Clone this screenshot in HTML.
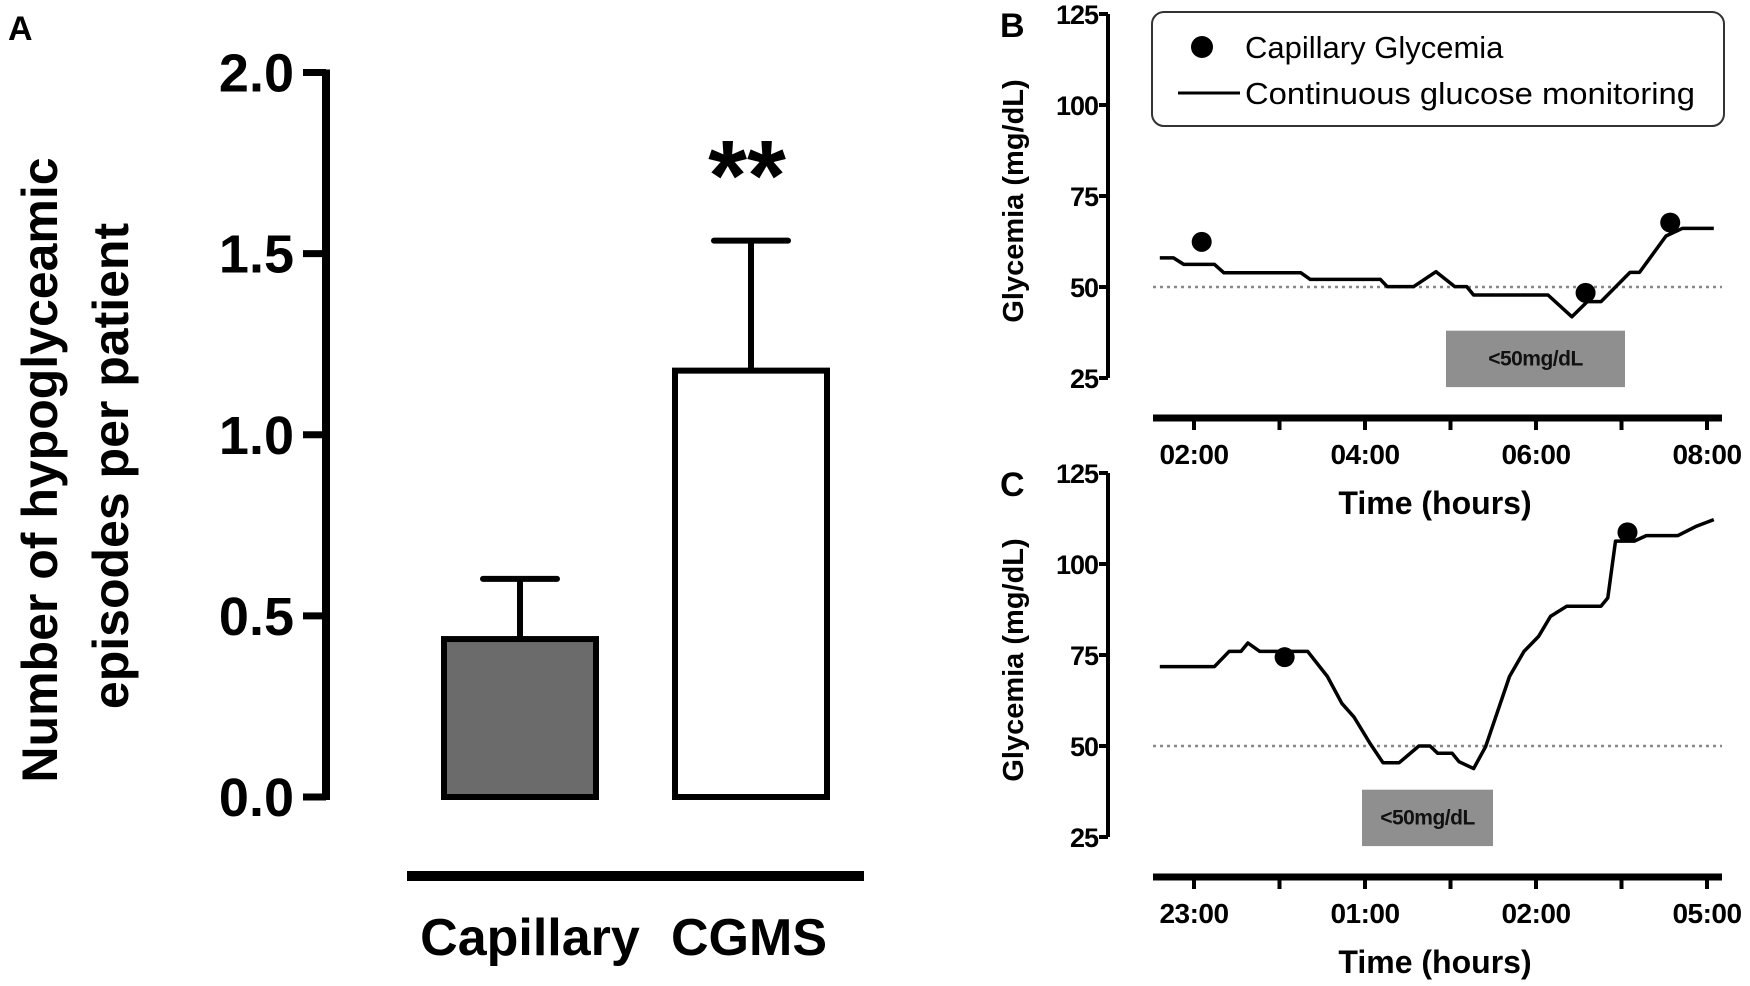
<!DOCTYPE html>
<html><head><meta charset="utf-8"><style>
html,body{margin:0;padding:0;background:#fff;}
svg{display:block;font-family:"Liberation Sans",Arial,sans-serif;}
</style></head><body>
<svg id="fig" width="1750" height="986" viewBox="0 0 1750 986">
  <rect x="0" y="0" width="1750" height="986" fill="#fff"/>
  <g id="panelA"></g>
  <g id="panelB"></g>
  <g id="panelC"></g>
</svg>
<script>
// ---------- Panel A data ----------
const barCategories = ["Capillary", "CGMS"];
const barMeans = [0.436, 1.177];
const barErrors = [0.166, 0.359];
const aTickValues = [0, 0.5, 1.0, 1.5, 2.0];
const aTickLabels = ["0.0", "0.5", "1.0", "1.5", "2.0"];

// ---------- Panel B data ----------
const bCgmHours = [1.6,1.76,1.88,2.24,2.35,3.25,3.36,4.18,4.26,4.57,4.83,5.05,5.19,5.27,6.14,6.42,6.6,6.76,7.1,7.21,7.52,7.71,8.08];
const bCgmValues = [58,58,56.2,56.2,53.9,53.9,52.1,52.1,50.1,50.1,54.2,50.1,50.1,47.8,47.8,41.8,46,46,54,54,64,66.1,66.1];
const bCapHours = [2.09, 6.58, 7.57];
const bCapValues = [62.4, 48.4, 67.7];
const bXTickHours = [2,3,4,5,6,7,8];
const bXTickLabels = ["02:00","","04:00","","06:00","","08:00"];

// ---------- Panel C data ----------
const cCgmPos = [-0.4,0.24,0.41,0.55,0.63,0.77,1.33,1.56,1.73,1.87,2.06,2.21,2.40,2.63,2.76,2.85,3.02,3.10,3.27,3.41,3.69,3.86,4.03,4.17,4.36,4.76,4.84,4.93,5.15,5.29,5.66,5.88,6.08];
const cCgmValues = [71.8,71.8,76,76,78.3,76,76,69.1,61.7,58,50.7,45.4,45.4,50,50,48,48,45.7,43.8,49.8,69.1,76,80.1,85.6,88.4,88.4,90.7,106.3,106.3,107.8,107.8,110.4,112.2];
const cCapPos = [1.06, 5.07];
const cCapValues = [74.4, 108.7];
const cXTickPos = [0,1,2,3,4,5,6];
const cXTickLabels = ["23:00","","01:00","","02:00","","05:00"];

const glyTicks = [25, 50, 75, 100, 125];
const threshold = 50;

const NS = "http://www.w3.org/2000/svg";
function mk(parent, tag, attrs, text) {
  const e = document.createElementNS(NS, tag);
  for (const k in attrs) e.setAttribute(k, attrs[k]);
  if (text !== undefined) e.textContent = text;
  parent.appendChild(e);
  return e;
}

// ================= Panel A =================
(function () {
  const g = document.getElementById("panelA");
  const yA = v => 797 - v * 362.25;
  const axisX = 326;
  let t = mk(g, "text", {x: 8, y: 40, "font-size": 34, "font-weight": "bold"}, "A");
  
  

  let ax = mk(g, "line", {x1: axisX, y1: yA(2.0) - 3, x2: axisX, y2: yA(0) + 3, stroke: "#000", "stroke-width": 8});
  
  
  aTickValues.forEach((v, i) => {
    const tk = mk(g, "line", {x1: 303, y1: yA(v), x2: axisX, y2: yA(v), stroke: "#000", "stroke-width": 7});
    
    
    const lb = mk(g, "text", {x: 294, y: yA(v) + 19, "font-size": 54, "font-weight": "bold", "text-anchor": "end"}, aTickLabels[i]);
    
    
  });

  const yt = mk(g, "text", {transform: "translate(57,470) rotate(-90)", "font-size": 50, "font-weight": "bold", "text-anchor": "middle"}, "Number of hypoglyceamic");
  
  
  const yt2 = mk(g, "text", {transform: "translate(128,466) rotate(-90)", "font-size": 50, "font-weight": "bold", "text-anchor": "middle"}, "episodes per patient");
  
  

  const barLeft = [444, 675];
  const barW = 152;
  const fills = ["#6b6b6b", "#ffffff"];
  barCategories.forEach((c, i) => {
    const cx = barLeft[i] + barW / 2;
    const top = yA(barMeans[i] + barErrors[i]);
    const el = mk(g, "line", {x1: cx, y1: yA(barMeans[i]), x2: cx, y2: top, stroke: "#000", "stroke-width": 6});
    
    
    const cap = mk(g, "line", {x1: cx - 37, y1: top, x2: cx + 37, y2: top, stroke: "#000", "stroke-width": 6, "stroke-linecap": "round"});
    
    
    const r = mk(g, "rect", {x: barLeft[i], y: yA(barMeans[i]), width: barW, height: yA(0) - yA(barMeans[i]), fill: fills[i], stroke: "#000", "stroke-width": 6});
    
    
    const lb = mk(g, "text", {x: cx + (i === 0 ? 10 : -2), y: 955, "font-size": 52, "font-weight": "bold", "text-anchor": "middle"}, c);
    
    
  });
  const st = mk(g, "text", {x: barLeft[1] + barW / 2 - 4, y: 210, "font-size": 100, "font-weight": "bold", "text-anchor": "middle"}, "**");
  
  
  const bl = mk(g, "line", {x1: 407, y1: 876, x2: 864, y2: 876, stroke: "#000", "stroke-width": 10});
  
  
})();

// ================= Panels B & C =================
function glyPanel(gid, top, letter, xVals, yVals, capX, capY, tickPos, tickLabels, xOf, boxX, boxW, withLegend) {
  const g = document.getElementById(gid);
  const y25 = top + 365;
  const yS = v => y25 - (v - 25) * 3.64;
  const axisX = 1108;
  const L = mk(g, "text", {x: 1000, y: top + 24, "font-size": 34, "font-weight": "bold"}, letter);
  
  

  const ya = mk(g, "line", {x1: axisX, y1: yS(125), x2: axisX, y2: yS(25), stroke: "#000", "stroke-width": 4});
  
  
  glyTicks.forEach(v => {
    const tk = mk(g, "line", {x1: 1099, y1: yS(v), x2: axisX, y2: yS(v), stroke: "#000", "stroke-width": 4});
    
    
    const lb = mk(g, "text", {x: 1098, y: yS(v) + 10, "font-size": 27, "font-weight": "bold", "text-anchor": "end", "letter-spacing": "-1"}, String(v));
    
    
  });
  const yt = mk(g, "text", {transform: "translate(1023," + (top + 188) + ") rotate(-90)", "font-size": 29, "font-weight": "bold", "text-anchor": "middle"}, "Glycemia (mg/dL)");
  
  

  const axY = top + 405;
  const xa = mk(g, "line", {x1: 1153, y1: axY, x2: 1722, y2: axY, stroke: "#000", "stroke-width": 7});
  
  
  tickPos.forEach((p, i) => {
    const tk = mk(g, "line", {x1: xOf(p), y1: axY, x2: xOf(p), y2: axY + 12, stroke: "#000", "stroke-width": 4});
    
    
    if (tickLabels[i]) {
      const lb = mk(g, "text", {x: xOf(p), y: axY + 46, "font-size": 28, "font-weight": "bold", "text-anchor": "middle", "letter-spacing": "-0.5"}, tickLabels[i]);
      
      
    }
  });
  const xt = mk(g, "text", {x: 1435, y: axY + 96, "font-size": 32, "font-weight": "bold", "text-anchor": "middle"}, "Time (hours)");
  
  

  const th = mk(g, "line", {x1: 1153, y1: yS(threshold), x2: 1722, y2: yS(threshold), stroke: "#888", "stroke-width": 2.5, "stroke-dasharray": "3 4"});
  
  

  const bx = mk(g, "rect", {x: boxX, y: yS(38), width: boxW, height: yS(22.5) - yS(38), fill: "#8f8f8f"});
  
  
  const bt = mk(g, "text", {x: boxX + boxW / 2, y: yS(30.3) + 7, "font-size": 21, "font-weight": "bold", "text-anchor": "middle", fill: "#111", "letter-spacing": "-0.5"}, "<50mg/dL");
  
  

  const pts = xVals.map((x, i) => xOf(x).toFixed(1) + "," + yS(yVals[i]).toFixed(1)).join(" ");
  const pl = mk(g, "polyline", {points: pts, fill: "none", stroke: "#000", "stroke-width": 3.5, "stroke-linejoin": "round"});
  
  
  capX.forEach((x, i) => {
    const c = mk(g, "circle", {cx: xOf(x), cy: yS(capY[i]), r: 10, fill: "#000"});
    
    
  });

  if (withLegend) {
    const lg = mk(g, "g", {});
    
    
    const lr = mk(lg, "rect", {x: 1152, y: 12, width: 572, height: 114, rx: 12, fill: "#fff", stroke: "#333", "stroke-width": 2});
    
    
    const ld = mk(lg, "circle", {cx: 1202, cy: 47, r: 11, fill: "#000"});
    
    
    const l1 = mk(lg, "text", {x: 1245, y: 58, "font-size": 31}, "Capillary Glycemia");
    
    
    const ll = mk(lg, "line", {x1: 1178, y1: 93, x2: 1240, y2: 93, stroke: "#000", "stroke-width": 3});
    
    
    const l2 = mk(lg, "text", {x: 1245, y: 104, "font-size": 31, textLength: 450, lengthAdjust: "spacingAndGlyphs"}, "Continuous glucose monitoring");
    
    
  }
}

const xB = h => 1194 + (h - 2) * 85.5;
const xC = p => 1194 + p * 85.5;
glyPanel("panelB", 13, "B", bCgmHours, bCgmValues, bCapHours, bCapValues, bXTickHours, bXTickLabels, xB, 1446, 179, true);
glyPanel("panelC", 472, "C", cCgmPos, cCgmValues, cCapPos, cCapValues, cXTickPos, cXTickLabels, xC, 1362, 131, false);
</script>
</body></html>
